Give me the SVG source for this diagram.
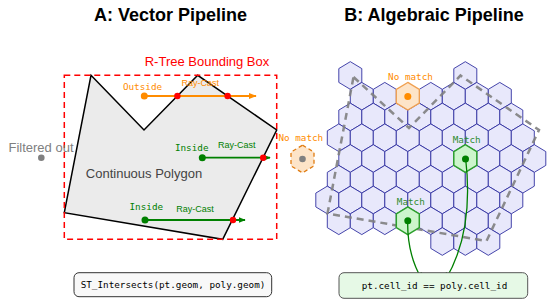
<svg xmlns="http://www.w3.org/2000/svg" xmlns:xlink="http://www.w3.org/1999/xlink" width="551" height="306" viewBox="0 0 551 306">
<style>
.title{font-family:"Liberation Sans",Arial,sans-serif;font-weight:bold;font-size:18px;fill:#000;text-anchor:middle}
.sans{font-family:"Liberation Sans",Arial,sans-serif;font-size:13px;text-anchor:middle}
.small{font-family:"Liberation Sans",Arial,sans-serif;font-size:9px;text-anchor:middle}
.mono{font-family:"DejaVu Sans Mono",monospace;font-size:9.3px;text-anchor:middle}
.hex{fill:#e8e8fb;stroke:#3030a0;stroke-width:0.9}
.box{stroke-width:1;rx:5}
</style>
<defs>
<polygon id="hx" points="0,-13.83 11.5,-6.92 11.5,6.92 0,13.83 -11.5,6.92 -11.5,-6.92"/>
<marker id="ao" viewBox="0 0 10 10" refX="9" refY="5" markerWidth="4" markerHeight="4" orient="auto" markerUnits="strokeWidth"><path d="M0,1 L10,5 L0,9 z" fill="#ff8c00"/></marker>
<marker id="ag" viewBox="0 0 10 10" refX="9" refY="5" markerWidth="4" markerHeight="4" orient="auto" markerUnits="strokeWidth"><path d="M0,1 L10,5 L0,9 z" fill="#008000"/></marker>
<marker id="ac" viewBox="0 0 10 10" refX="9" refY="5" markerWidth="6" markerHeight="6" orient="auto" markerUnits="strokeWidth"><path d="M1,1 L9,5 L1,9" fill="none" stroke="#008000" stroke-width="1.5"/></marker>
</defs>

<text class="title" x="170.5" y="21">A: Vector Pipeline</text>
<text class="title" x="434" y="21">B: Algebraic Pipeline</text>

<g id="polygon">
<polygon points="91,75.3 144,130 197.7,75.3 276.7,130 222.7,239.3 64.3,212.7" fill="#ebebeb" stroke="#000" stroke-width="1.5"/>
<text class="sans" x="144" y="177.5" fill="#444">Continuous Polygon</text>
</g>

<g id="bbox">
<rect x="64.3" y="75.3" width="212.4" height="164" fill="none" stroke="#ff0000" stroke-width="1.5" stroke-dasharray="6 4"/>
<text class="sans" x="207" y="66" fill="#ff0000">R-Tree Bounding Box</text>
</g>

<g id="filtered">
<circle cx="41.3" cy="157.7" r="3.3" fill="#808080"/>
<text class="sans" x="41" y="151.5" fill="#808080">Filtered out</text>
</g>

<g id="connectors">
<line x1="144.3" y1="96" x2="256" y2="96" stroke="#ff8c00" stroke-width="2" marker-end="url(#ao)"/>
<line x1="202.3" y1="157.7" x2="270" y2="157.7" stroke="#008000" stroke-width="1.8" marker-end="url(#ag)"/>
<line x1="145" y1="220" x2="245" y2="220" stroke="#008000" stroke-width="1.8" marker-end="url(#ag)"/>
</g>

<g id="outside-pt">
<circle cx="144.3" cy="96" r="3.5" fill="#ff8c00"/>
<circle cx="177.4" cy="96" r="3.2" fill="#ff0000"/>
<circle cx="227.6" cy="96" r="3.2" fill="#ff0000"/>
<text class="mono" x="142.5" y="90" fill="#ff8c00">Outside</text>
<text class="small" x="200.3" y="86" fill="#ff8c00">Ray-Cast</text>
</g>

<g id="inside-pt1">
<circle cx="202.3" cy="157.7" r="3.5" fill="#008000"/>
<circle cx="263.2" cy="157.7" r="3.2" fill="#ff0000"/>
<text class="mono" x="191.7" y="150.5" fill="#008000">Inside</text>
<text class="small" x="236.7" y="148" fill="#008000">Ray-Cast</text>
</g>

<g id="inside-pt2">
<circle cx="145" cy="220" r="3.5" fill="#008000"/>
<circle cx="233" cy="220" r="3.2" fill="#ff0000"/>
<text class="mono" x="146.3" y="210" fill="#008000">Inside</text>
<text class="small" x="195" y="212" fill="#008000">Ray-Cast</text>
</g>

<g id="nomatch-out">
<use xlink:href="#hx" href="#hx" x="302.5" y="159" fill="#fde4c8" stroke="#e07b10" stroke-width="1.3" stroke-dasharray="4 3"/>
<circle cx="302.5" cy="159" r="3.3" fill="#808080"/>
<text class="mono" x="300.8" y="141" fill="#ff8c00">No match</text>
</g>

<g id="hexgrid" class="hex">
<use href="#hx" x="350.3" y="75.5"/><use href="#hx" x="465.3" y="75.5"/>
<use href="#hx" x="361.8" y="96.25"/><use href="#hx" x="384.8" y="96.25"/><use href="#hx" x="430.8" y="96.25"/><use href="#hx" x="453.8" y="96.25"/><use href="#hx" x="476.8" y="96.25"/><use href="#hx" x="499.8" y="96.25"/>
<use href="#hx" x="350.3" y="117"/><use href="#hx" x="373.3" y="117"/><use href="#hx" x="396.3" y="117"/><use href="#hx" x="419.3" y="117"/><use href="#hx" x="442.3" y="117"/><use href="#hx" x="465.3" y="117"/><use href="#hx" x="488.3" y="117"/><use href="#hx" x="511.3" y="117"/>
<use href="#hx" x="338.8" y="137.75"/><use href="#hx" x="361.8" y="137.75"/><use href="#hx" x="384.8" y="137.75"/><use href="#hx" x="407.8" y="137.75"/><use href="#hx" x="430.8" y="137.75"/><use href="#hx" x="453.8" y="137.75"/><use href="#hx" x="476.8" y="137.75"/><use href="#hx" x="499.8" y="137.75"/><use href="#hx" x="522.8" y="137.75"/>
<use href="#hx" x="350.3" y="158.5"/><use href="#hx" x="373.3" y="158.5"/><use href="#hx" x="396.3" y="158.5"/><use href="#hx" x="419.3" y="158.5"/><use href="#hx" x="442.3" y="158.5"/><use href="#hx" x="488.3" y="158.5"/><use href="#hx" x="511.3" y="158.5"/><use href="#hx" x="534.3" y="158.5"/>
<use href="#hx" x="338.8" y="179.25"/><use href="#hx" x="361.8" y="179.25"/><use href="#hx" x="384.8" y="179.25"/><use href="#hx" x="407.8" y="179.25"/><use href="#hx" x="430.8" y="179.25"/><use href="#hx" x="453.8" y="179.25"/><use href="#hx" x="476.8" y="179.25"/><use href="#hx" x="499.8" y="179.25"/><use href="#hx" x="522.8" y="179.25"/>
<use href="#hx" x="327.3" y="200"/><use href="#hx" x="350.3" y="200"/><use href="#hx" x="373.3" y="200"/><use href="#hx" x="396.3" y="200"/><use href="#hx" x="419.3" y="200"/><use href="#hx" x="442.3" y="200"/><use href="#hx" x="465.3" y="200"/><use href="#hx" x="488.3" y="200"/><use href="#hx" x="511.3" y="200"/>
<use href="#hx" x="338.8" y="220.75"/><use href="#hx" x="361.8" y="220.75"/><use href="#hx" x="384.8" y="220.75"/><use href="#hx" x="430.8" y="220.75"/><use href="#hx" x="453.8" y="220.75"/><use href="#hx" x="476.8" y="220.75"/><use href="#hx" x="499.8" y="220.75"/>
<use href="#hx" x="442.3" y="241.5"/><use href="#hx" x="465.3" y="241.5"/><use href="#hx" x="488.3" y="241.5"/>
</g>

<g id="polygon-outline">
<polygon points="353.5,77 409,128 460.5,75.5 539,130 486.5,241 327.5,213.5" fill="none" stroke="#808080" stroke-width="2.5" stroke-dasharray="7 5" stroke-opacity="0.9"/>
</g>

<g id="nomatch-cell">
<use href="#hx" x="407.8" y="96.25" fill="#fde4c8" stroke="#f0a050" stroke-width="1.3"/>
<circle cx="407.8" cy="96.5" r="3.5" fill="#ff8c00"/>
<text class="mono" x="410.5" y="79.5" fill="#ff8c00">No match</text>
</g>

<g id="match-cell1">
<use href="#hx" x="465.3" y="158.5" fill="#ccf5cc" stroke="#2ca02c" stroke-width="1.5"/>
<circle cx="465.5" cy="159" r="3.5" fill="#008000"/>
<text class="mono" x="466.7" y="143" fill="#2e8b2e">Match</text>
</g>

<g id="match-cell2">
<use href="#hx" x="407.8" y="220.75" fill="#ccf5cc" stroke="#2ca02c" stroke-width="1.5"/>
<circle cx="407.8" cy="220.7" r="3.5" fill="#008000"/>
<text class="mono" x="410.8" y="205" fill="#2e8b2e">Match</text>
</g>

<g id="match-connectors">
<path d="M465.7,159 Q474,231 446,279" fill="none" stroke="#008000" stroke-width="1.3" marker-end="url(#ac)"/>
<path d="M407.7,220.7 Q407,254 421.7,279" fill="none" stroke="#008000" stroke-width="1.3" marker-end="url(#ac)"/>
</g>

<g id="st-intersects">
<rect x="74" y="272.7" width="197.7" height="24" rx="5" fill="#f8f8f8" stroke="#333" stroke-width="1"/>
<text class="mono" x="173" y="288" fill="#000">ST_Intersects(pt.geom, poly.geom)</text>
</g>

<g id="cell-eq">
<rect x="339" y="272.7" width="188.7" height="25.6" rx="5" fill="#e6f9e6" stroke="#555" stroke-width="1"/>
<text class="mono" x="434.5" y="289" fill="#000">pt.cell_id == poly.cell_id</text>
</g>
</svg>
